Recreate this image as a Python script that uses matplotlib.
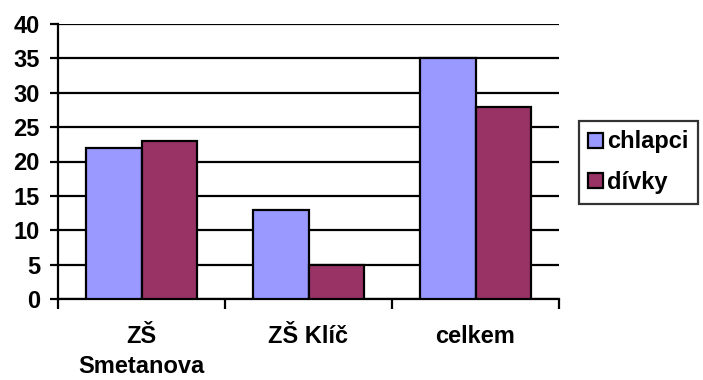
import matplotlib
matplotlib.use("Agg")
import matplotlib.pyplot as plt
import numpy as np
from matplotlib.patches import Patch

plt.rcParams['font.family'] = ['Liberation Sans', 'DejaVu Sans']
plt.rcParams['font.weight'] = 'bold'

categories = ["ZŠ\nSmetanova", "ZŠ Klíč", "celkem"]
chlapci = [22, 13, 35]
divky = [23, 5, 28]
series_names = ["chlapci", "dívky"]
colors = ["#9999FF", "#993366"]

fig = plt.figure(figsize=(7.03, 3.80), dpi=100)
ax = fig.add_axes([58/703, 1 - 299/380, (559-58)/703, (299-24)/380])

x = np.arange(len(categories))
w = 0.33
ax.bar(x - w/2, chlapci, w, color=colors[0], edgecolor="black", linewidth=1.6, zorder=3)
ax.bar(x + w/2, divky, w, color=colors[1], edgecolor="black", linewidth=1.6, zorder=3)

ax.set_xlim(-0.5, 2.5)
ax.set_ylim(0, 40)
ax.set_yticks(range(0, 41, 5))
ax.yaxis.grid(True, color="black", linewidth=1.6, zorder=0)
ax.set_axisbelow(True)

for s in ["top", "right"]:
    ax.spines[s].set_visible(False)
for s in ["left", "bottom"]:
    ax.spines[s].set_linewidth(1.6)

ax.set_xticks(np.arange(-0.5, 3, 1), minor=False)
ax.set_xticklabels([])
ax.tick_params(axis="x", direction="out", length=7, width=1.6)
ax.set_xticks(x, minor=True)
ax.set_xticklabels(categories, minor=True, fontsize=17, fontweight="bold", linespacing=1.35)
ax.tick_params(axis="x", which="minor", length=0, pad=19)
ax.tick_params(axis="y", direction="out", length=6, width=1.6, labelsize=17, pad=7)
for lab in ax.get_yticklabels():
    lab.set_fontweight("bold")

handles = [Patch(facecolor=c, edgecolor="black", linewidth=1.6) for c in colors]
leg = fig.legend(handles, series_names, loc="upper left",
                 bbox_to_anchor=(579/703, 1 - 121/380), fontsize=17,
                 frameon=True, fancybox=False, handlelength=0.6, handleheight=0.6,
                 handletextpad=0.2, labelspacing=0.75, borderpad=0.4, borderaxespad=0)
leg.get_frame().set_edgecolor("black")
leg.get_frame().set_linewidth(1.6)
for t in leg.get_texts():
    t.set_fontweight("bold")

fig.savefig("out.png", dpi=100)
